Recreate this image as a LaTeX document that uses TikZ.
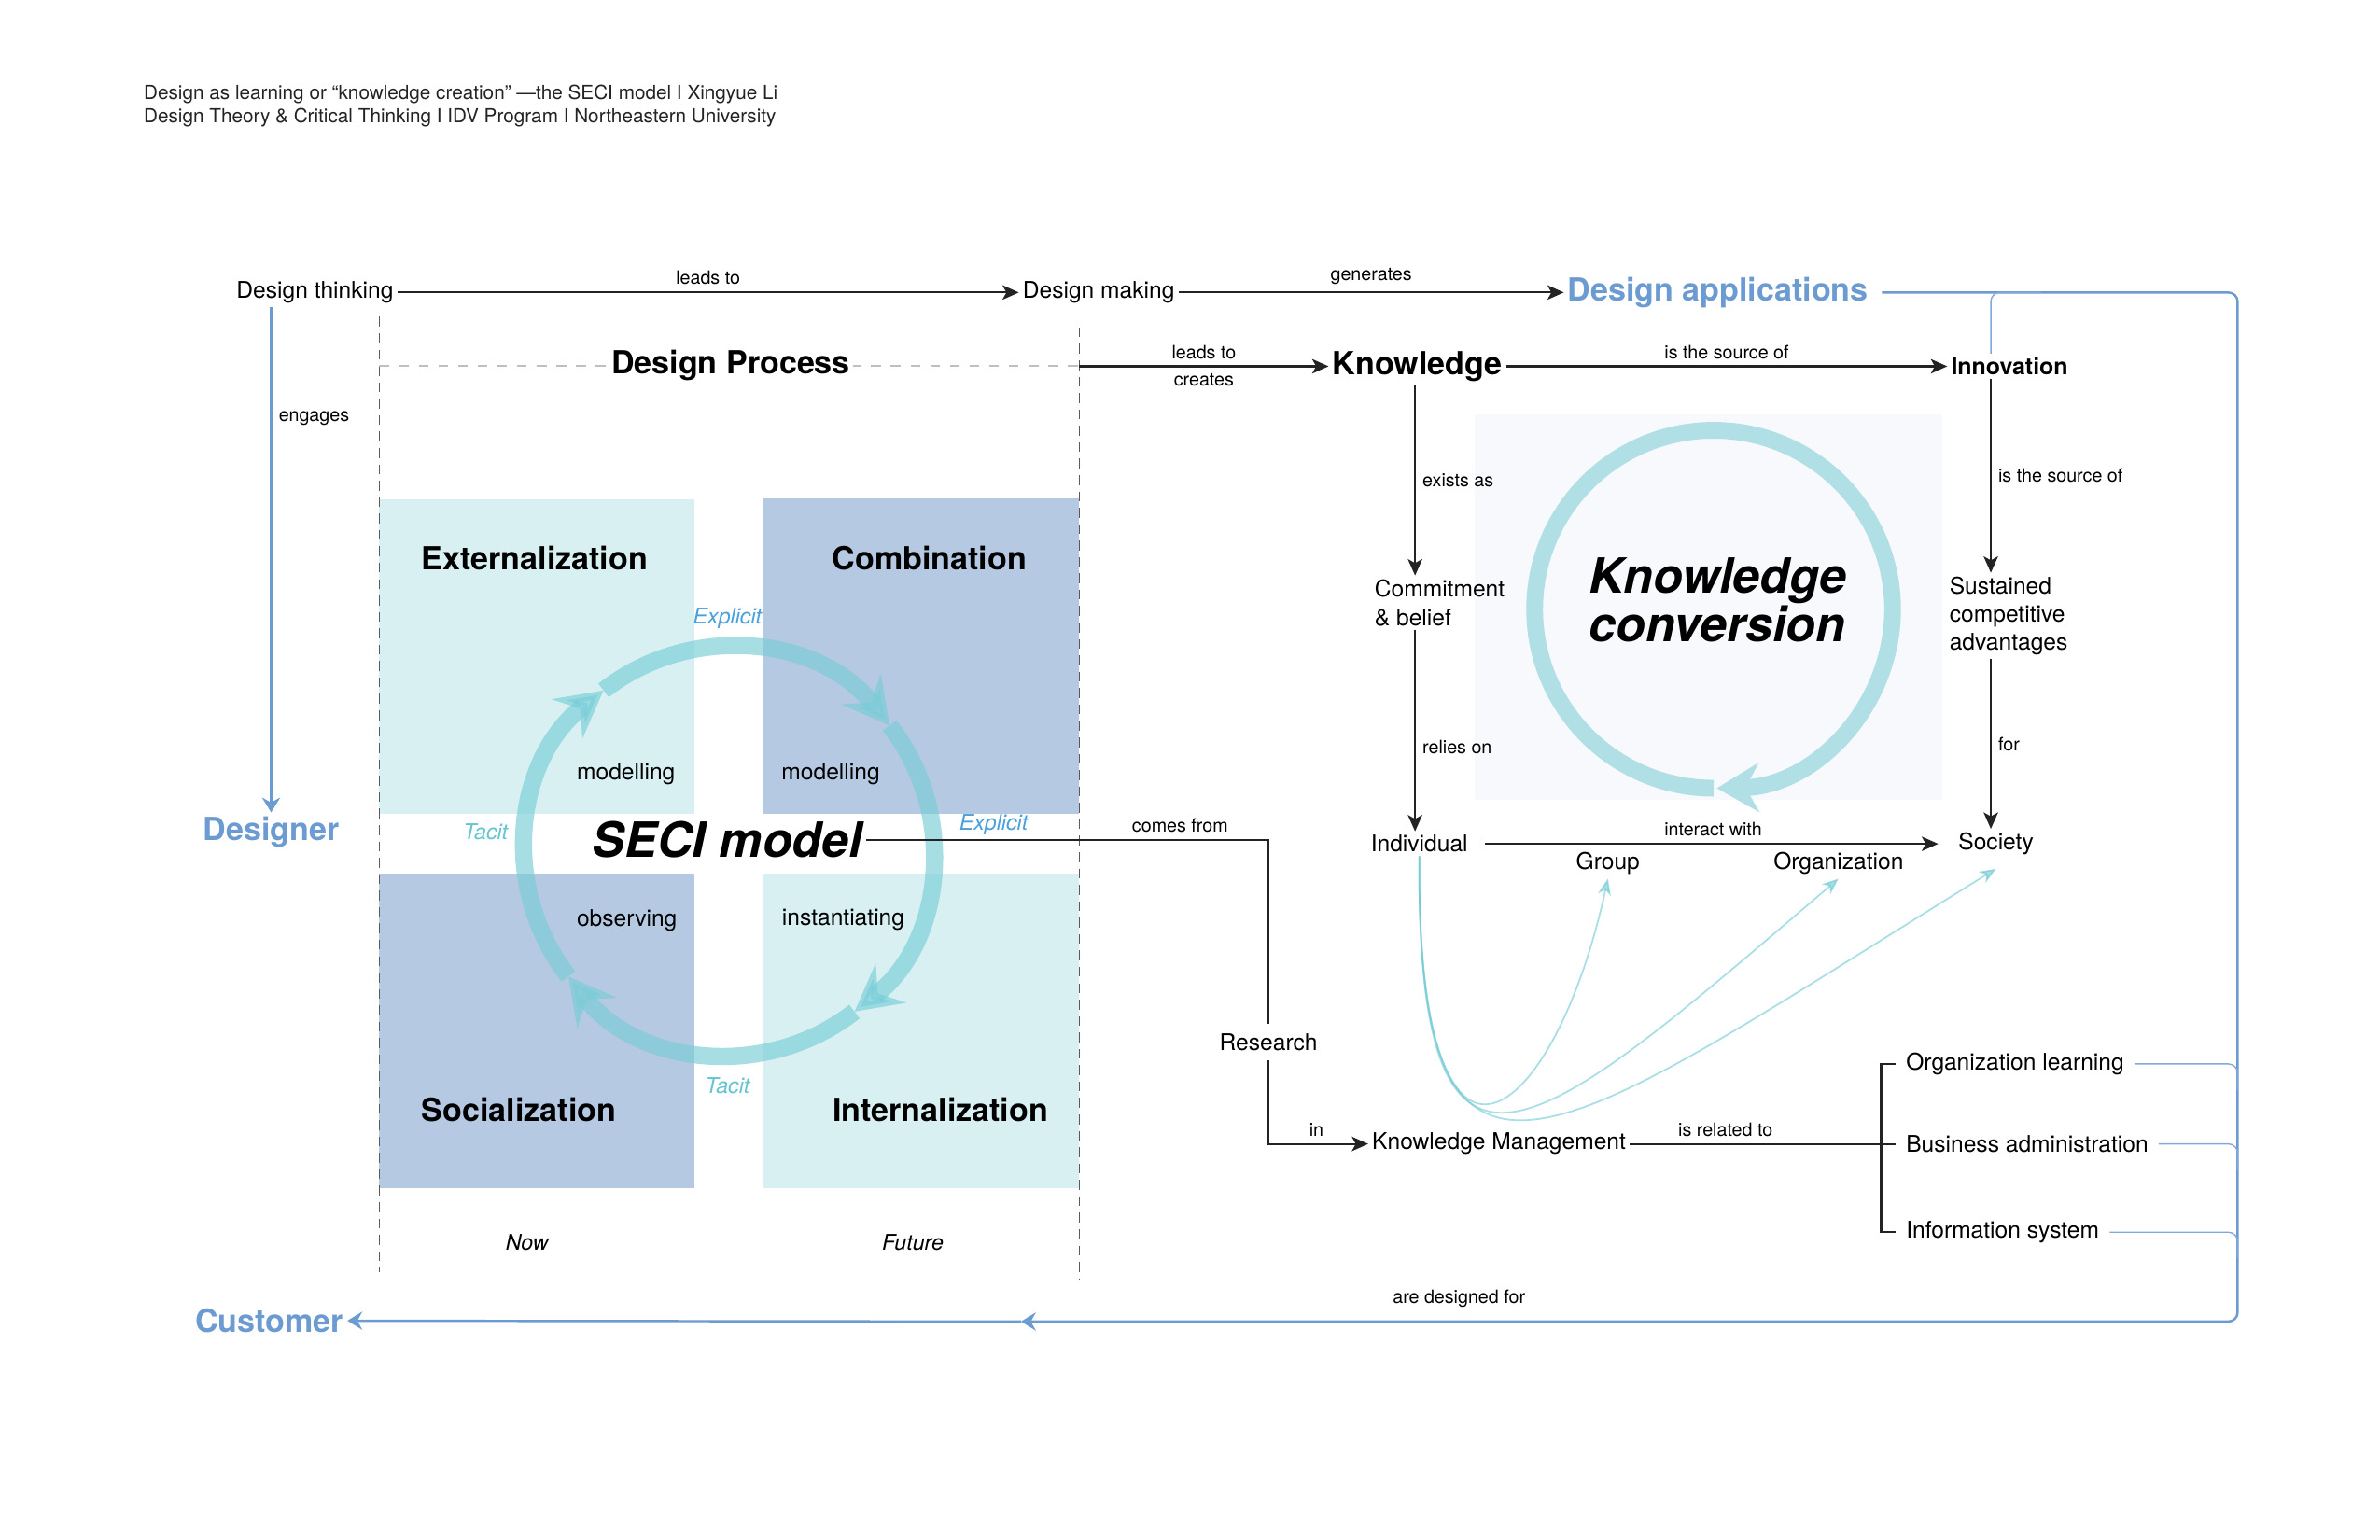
\documentclass[tikz,border=0pt]{standalone}
\usepackage{fontspec}
\setmainfont{TeX Gyre Heros}
\usetikzlibrary{arrows.meta,positioning,calc}
\definecolor{ink}{RGB}{35,35,35}
\definecolor{appblue}{RGB}{108,155,210}
\definecolor{feedblue}{RGB}{130,168,220}
\definecolor{lightcyan}{RGB}{216,240,242}
\definecolor{greyblue}{RGB}{181,201,226}
\definecolor{ringcyan}{RGB}{120,205,215}
\definecolor{powder}{RGB}{176,224,230}
\definecolor{explblue}{RGB}{72,160,220}
\definecolor{tacitcyan}{RGB}{100,196,210}
\definecolor{convbg}{RGB}{247,249,252}
\definecolor{curvecyan}{RGB}{110,200,212}
\begin{document}
\begin{tikzpicture}[x=0.01632cm, y=-0.01632cm,
    txt/.style={inner sep=1pt, text=black, font=\fontsize{7}{8.8}\selectfont},
    lbl/.style={inner sep=2pt, text=black, font=\fontsize{5.6}{6.5}\selectfont},
    ital/.style={inner sep=1pt, font=\fontsize{6.6}{7.5}\selectfont\itshape},
    head/.style={inner sep=1pt, font=\fontsize{9.7}{11}\selectfont\bfseries},
    bighead/.style={inner sep=1pt, font=\fontsize{14.8}{14.7}\selectfont\bfseries\itshape},
    bluehead/.style={head, text=appblue},
    arr/.style={draw=ink, line width=0.6pt, -{Stealth[length=5pt, width=4.4pt, inset=1.2pt]}},
    conn/.style={draw=ink, line width=0.6pt},
    bluearr/.style={draw=appblue, line width=0.7pt, -{Stealth[length=4.5pt, width=5.5pt, inset=1.5pt]}},
    feed/.style={draw=feedblue, line width=0.4pt, rounded corners=2.8pt},
    seciarc/.style={draw=ringcyan, opacity=0.65, line width=5.25pt, -{Stealth[length=14pt, width=15pt, inset=5pt]}},
    curve/.style={draw=curvecyan, opacity=0.6, line width=0.5pt, -{Stealth[length=5pt, width=4pt, inset=1.5pt]}}]

    % Draw page
    \fill[white] (0,0) rectangle (1562.5,1011);
    \useasboundingbox (0,0) rectangle (1562.5,1011);

    % Draw title
    \node[anchor=west, align=left, inner sep=0pt, text=ink, font=\fontsize{5.9}{7.2}\selectfont] (title) at (94,69.5)
        {Design as learning or “knowledge creation” —the SECI model I Xingyue Li\\Design Theory \& Critical Thinking I IDV Program I Northeastern University};

    % Draw quadrants of the SECI model
    \fill[lightcyan] (249,328) rectangle (456,534.5);
    \fill[greyblue] (501,327) rectangle (708.5,534.5);
    \fill[greyblue] (249,573.6) rectangle (456,780);
    \fill[lightcyan] (501,573.6) rectangle (708.5,780);

    % Draw frame of the design process
    \draw[densely dashed, ink!75, line width=0.3pt] (249,208) -- (249,835);
    \draw[densely dashed, ink!75, line width=0.3pt] (708.5,215) -- (708.5,840);
    \draw[dashed, black!25, line width=0.5pt] (249,240) -- (708.5,240);

    % Draw the SECI cycle
    \foreach \a/\b in {52/142,142/232,232/322,322/412}
        \draw[seciarc] (478.6,558.7) ++(\a:133.8) arc[start angle=\a, end angle=\b, radius=133.8];

    % Draw nodes for the SECI model
    \node[head] (ext) at (351,366.7) {Externalization};
    \node[head] (comb) at (610.2,366.7) {Combination};
    \node[head] (soc) at (340.7,728.4) {Socialization};
    \node[head] (int) at (617.4,728.4) {Internalization};
    \node[txt] (mod1) at (411,508) {modelling};
    \node[txt] (mod2) at (545.4,508) {modelling};
    \node[txt] (obs) at (411.6,604) {observing};
    \node[txt] (inst) at (553.6,604) {instantiating};
    \node[ital, text=explblue] (expl1) at (477.6,405.8) {Explicit};
    \node[ital, text=explblue] (expl2) at (652.3,541.3) {Explicit};
    \node[ital, text=tacitcyan] (tac1) at (318.8,546.4) {Tacit};
    \node[ital, text=tacitcyan] (tac2) at (477.6,712.8) {Tacit};
    \node[bighead] (seci) at (477.6,551.2) {SECI model};
    \node[ital, text=black] (now) at (346,816) {Now};
    \node[ital, text=black] (future) at (599.3,816) {Future};

    % Draw nodes for the top row
    \node[txt] (dthink) at (206.75,192) {Design thinking};
    \node[txt] (dmake) at (721.3,192) {Design making};
    \node[bluehead] (dapp) at (1127.9,192) {Design applications};
    \node[head, fill=white] (dproc) at (479.8,240) {Design Process};
    \node[bluehead] (designer) at (178,546) {Designer};
    \node[bluehead] (customer) at (176.9,867) {Customer};

    % Draw knowledge conversion
    \fill[convbg] (968,272) rectangle (1275,525);
    \draw[powder, line width=5.1pt, -{Stealth[length=12.8pt, width=14.9pt, inset=4pt]}]
        (1125,400) ++(90:117.5) arc[start angle=90, end angle=449, radius=117.5];
    \node[bighead, align=center] (kconv) at (1127.5,393.7) {Knowledge\\conversion};

    % Draw nodes for knowledge
    \coordinate (kx) at (929,0);
    \coordinate (ix) at (1307,0);
    \coordinate (rx) at (1469,0);
    \node[head] (know) at (930.5,240.5) {Knowledge};
    \node[txt, font=\fontsize{7.1}{8}\selectfont\bfseries] (innov) at (1319.3,240.5) {Innovation};
    \node[txt, anchor=west, align=left] (commit) at (899.9,395.7) {Commitment\\\& belief};
    \node[txt, anchor=west, align=left, font=\fontsize{7}{8.6}\selectfont] (sca) at (1277.3,404.4) {Sustained\\competitive\\advantages};
    \node[txt] (indiv) at (931.8,554) {Individual};
    \node[txt] (society) at (1310.4,554) {Society};
    \node[txt] (group) at (1055.6,567) {Group};
    \node[txt] (org) at (1207,567) {Organization};
    \node[txt, outer sep=2pt] (research) at (832.8,684) {Research};
    \node[txt] (km) at (984.1,751) {Knowledge Management};
    \node[txt, inner sep=3pt, anchor=west] (orglearn) at (1244.5,698.5) {Organization learning};
    \node[txt, inner sep=3pt, anchor=west] (busadm) at (1244.5,751) {Business administration};
    \node[txt, inner sep=3pt, anchor=west] (infosys) at (1244.5,809) {Information system};
    \coordinate (dpend) at (708.5,240.5);
    \coordinate (brk) at (1235,751);
    \coordinate (tr) at (1469,192);
    \coordinate (br) at (1469,867.6);
    \coordinate (midc) at (670.3,867.6);
    \coordinate (ijoin) at (1340,192);

    % Draw edges
    \draw[arr] (dthink) -- node[lbl, above] {leads to} (dmake);
    \draw[arr] (dmake) -- node[lbl, above] {generates} (dapp);
    \draw[bluearr] (designer.north |- dthink.south) -- node[lbl, right, pos=0.22] {engages} (designer.north);
    \draw[arr] (dpend) -- node[lbl, above] {leads to} node[lbl, below] {creates} (know);
    \draw[arr] (know) -- node[lbl, above] {is the source of} (innov);
    \draw[arr] (know.south -| kx) -- node[lbl, right] {exists as} (commit.north -| kx);
    \draw[arr] (commit.south -| kx) -- node[lbl, right, pos=0.58] {relies on} (indiv.north -| kx);
    \draw[arr] (innov.south -| ix) -- node[lbl, right] {is the source of} (sca.north -| ix);
    \draw[arr] (sca.south -| ix) -- node[lbl, right] {for} (society.north -| ix);
    \draw[arr, shorten <=4pt, shorten >=5pt] (indiv) -- node[lbl, above] {interact with} (society);
    \draw[conn] (seci.east) -| node[lbl, above, pos=0.39] {comes from} (research.north);
    \draw[arr] (research.south) |- node[lbl, above, pos=0.74] {in} (km.west);
    \draw[conn] (km) -- node[lbl, above, pos=0.36] {is related to} (busadm);
    \draw[conn] (orglearn.west) -| (brk) |- (infosys.west);

    % Draw curves from the individual
    \draw[curve] (indiv.south) .. controls (930,810) and (1020,740) .. (group.south);
    \draw[curve] (indiv.south) .. controls (930,820) and (1010,745) .. (org.south);
    \draw[curve] (indiv.south) .. controls (930,830) and (1020,750) .. ([yshift=-3pt]society.south);

    % Draw the application loop
    \draw[bluearr, rounded corners=2.8pt, shorten <=3pt] (dapp.east) -- (tr) -- (br)
        -- node[lbl, above=2pt, pos=0.64] {are designed for} (midc);
    \draw[bluearr] (midc) -- (customer);
    \draw[feed] (innov.north -| ix) |- (ijoin);
    \draw[feed] (orglearn.east) -| ([yshift=-8pt]orglearn.east -| rx);
    \draw[feed] (busadm.east) -| ([yshift=-8pt]busadm.east -| rx);
    \draw[feed] (infosys.east) -| ([yshift=-8pt]infosys.east -| rx);
\end{tikzpicture}
\end{document}
